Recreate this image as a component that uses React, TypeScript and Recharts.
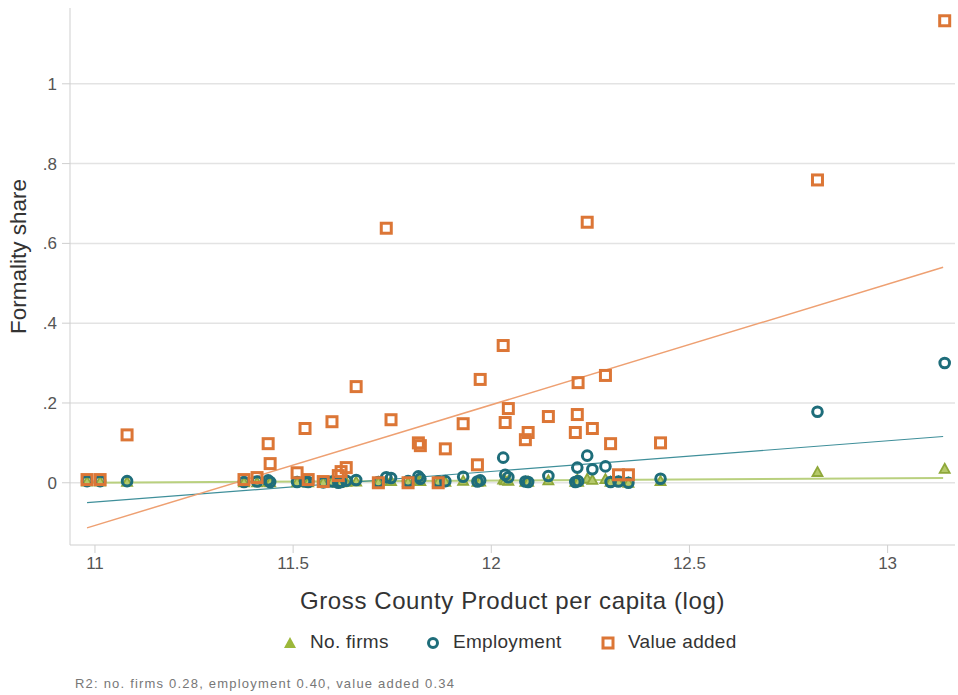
import React from "react";
import {
  ScatterChart,
  Scatter,
  XAxis,
  YAxis,
  ReferenceLine,
} from "recharts";

// log GCP per capita for each county
const gcp = [
  10.98, 11.013, 11.081, 11.376, 11.409, 11.437, 11.442, 11.51, 11.53, 11.538,
  11.576, 11.598, 11.614, 11.621, 11.634, 11.659, 11.715, 11.735, 11.747, 11.79,
  11.816, 11.821, 11.866, 11.884, 11.929, 11.965, 11.972, 12.03, 12.035, 12.043,
  12.086, 12.093, 12.144, 12.212, 12.217, 12.219, 12.242, 12.255, 12.288, 12.301,
  12.321, 12.346, 12.427, 12.823, 13.144,
];

const firms = [
  0.003, 0.003, 0.002, 0.001, 0.001, 0.002, 0.001, 0.001, 0.002, 0.001,
  0.001, 0.002, 0.0, 0.001, 0.002, 0.003, 0.001, 0.004, 0.004, 0.002,
  0.005, 0.004, 0.002, 0.002, 0.005, 0.002, 0.003, 0.008, 0.006, 0.005,
  0.002, 0.002, 0.006, 0.002, 0.008, 0.002, 0.01, 0.007, 0.009, 0.002,
  0.002, 0.0, 0.004, 0.027, 0.035,
];

const employment = [
  0.004, 0.004, 0.004, 0.002, 0.003, 0.006, 0.002, 0.002, 0.003, 0.002,
  0.001, 0.003, 0.0, 0.002, 0.005, 0.007, 0.002, 0.014, 0.012, 0.004,
  0.016, 0.01, 0.003, 0.004, 0.015, 0.003, 0.006, 0.063, 0.02, 0.014,
  0.003, 0.002, 0.017, 0.002, 0.038, 0.004, 0.068, 0.034, 0.041, 0.002,
  0.003, 0.0, 0.01, 0.178, 0.3,
];

const valueAdded = [
  0.008, 0.008, 0.12, 0.008, 0.013, 0.098, 0.048, 0.025, 0.136, 0.008,
  0.003, 0.153, 0.018, 0.028, 0.038, 0.241, 0.0, 0.638, 0.158, 0.0,
  0.1, 0.093, 0.0, 0.085, 0.148, 0.045, 0.259, 0.344, 0.151, 0.186,
  0.108, 0.126, 0.166, 0.126, 0.171, 0.251, 0.653, 0.136, 0.269, 0.098,
  0.02, 0.02, 0.1, 0.759, 1.158,
];

// fitted line endpoints
const fitX = [10.98, 13.14];
const firmsFit = [0.0, 0.012];
const employmentFit = [-0.05, 0.116];
const valueAddedFit = [-0.113, 0.54];

const xTicks = [11, 11.5, 12, 12.5, 13];
const yTicks = [0, 0.2, 0.4, 0.6, 0.8, 1];

const GREEN = "#8fa83a";
const TEAL = "#1e6d7a";
const ORANGE = "#dc7636";
const FONT = "'Liberation Sans', Arial, sans-serif";

const toPoints = (ys: number[]) => gcp.map((x, i) => ({ x, y: ys[i] }));
const toSegment = (ys: number[]) => fitX.map((x, i) => ({ x, y: ys[i] }));

const fmtY = (v: number) => (v === 0 ? "0" : v === 1 ? "1" : String(v).replace(/^0/, ""));

// hollow markers, like the stata ones
const SquareMark = (p: any) => (
  <rect x={p.cx - 5} y={p.cy - 5} width={10} height={10} fill="none" stroke={ORANGE} strokeWidth={3} />
);
const CircleMark = (p: any) => (
  <circle cx={p.cx} cy={p.cy} r={4.8} fill="none" stroke={TEAL} strokeWidth={3} />
);
const TriangleMark = (p: any) => (
  <path
    d={`M${p.cx},${p.cy - 5} L${p.cx + 5},${p.cy + 4} L${p.cx - 5},${p.cy + 4} Z`}
    fill="#b5c96a"
    stroke={GREEN}
    strokeWidth={1.8}
  />
);

export default function App() {
  return (
    <div style={{ position: "absolute", left: 0, top: 0, width: 958, height: 695, background: "#fff", fontFamily: FONT }}>
      <ScatterChart width={958} height={695} margin={{ top: 8, right: 3, left: 0, bottom: 80 }}>
        {yTicks.map((t) => (
          <ReferenceLine key={t} y={t} stroke="#e3e3e3" strokeWidth={1.5} />
        ))}
        <XAxis
          type="number"
          dataKey="x"
          domain={[10.937, 13.17]}
          ticks={xTicks}
          height={70}
          tickSize={8}
          tickMargin={4}
          stroke="#cfcfcf"
          tick={{ fill: "#555", fontSize: 17, fontFamily: FONT }}
          allowDataOverflow
          label={{ value: "Gross County Product per capita (log)", position: "insideBottom", offset: 6, fill: "#333", fontSize: 24, fontFamily: FONT, letterSpacing: 0.6 }}
        />
        <YAxis
          type="number"
          dataKey="y"
          domain={[-0.156, 1.19]}
          ticks={yTicks}
          width={70}
          tickSize={8}
          tickMargin={5}
          tickFormatter={fmtY}
          stroke="#cfcfcf"
          tick={{ fill: "#555", fontSize: 17, fontFamily: FONT }}
          allowDataOverflow
          label={{ value: "Formality share", angle: -90, position: "insideLeft", offset: 18, dy: -20, fill: "#333", fontSize: 22.5, fontFamily: FONT, style: { textAnchor: "middle" } }}
        />
        <Scatter data={toPoints(firms)} shape={TriangleMark} isAnimationActive={false} />
        <Scatter data={toPoints(employment)} shape={CircleMark} isAnimationActive={false} />
        <Scatter data={toPoints(valueAdded)} shape={SquareMark} isAnimationActive={false} />
        <ReferenceLine segment={toSegment(firmsFit)} stroke="#b9d07e" strokeWidth={2} />
        <ReferenceLine segment={toSegment(employmentFit)} stroke="#3f8f9a" strokeWidth={1.2} />
        <ReferenceLine segment={toSegment(valueAddedFit)} stroke="#eea072" strokeWidth={1.5} />
      </ScatterChart>

      <div style={{ position: "absolute", top: 631, left: 0, width: 958, height: 26, fontSize: 19, color: "#333", letterSpacing: 0.3 }}>
        <svg style={{ position: "absolute", left: 283, top: 5 }} width={14} height={14}>
          <path d="M7,1 L13,12 L1,12 Z" fill="#9cb83a" />
        </svg>
        <span style={{ position: "absolute", left: 310, top: 0 }}>No. firms</span>
        <svg style={{ position: "absolute", left: 426, top: 5 }} width={14} height={14}>
          <circle cx={7} cy={7} r={4.5} fill="#fff" stroke={TEAL} strokeWidth={3} />
        </svg>
        <span style={{ position: "absolute", left: 453, top: 0 }}>Employment</span>
        <svg style={{ position: "absolute", left: 601, top: 5 }} width={14} height={14}>
          <rect x={2} y={2} width={10} height={10} fill="#fff" stroke={ORANGE} strokeWidth={3} />
        </svg>
        <span style={{ position: "absolute", left: 628, top: 0 }}>Value added</span>
      </div>

      <div style={{ position: "absolute", top: 676, left: 75, fontSize: 13, color: "#777", letterSpacing: 1.2 }}>
        R2: no. firms 0.28, employment 0.40, value added 0.34
      </div>
    </div>
  );
}
